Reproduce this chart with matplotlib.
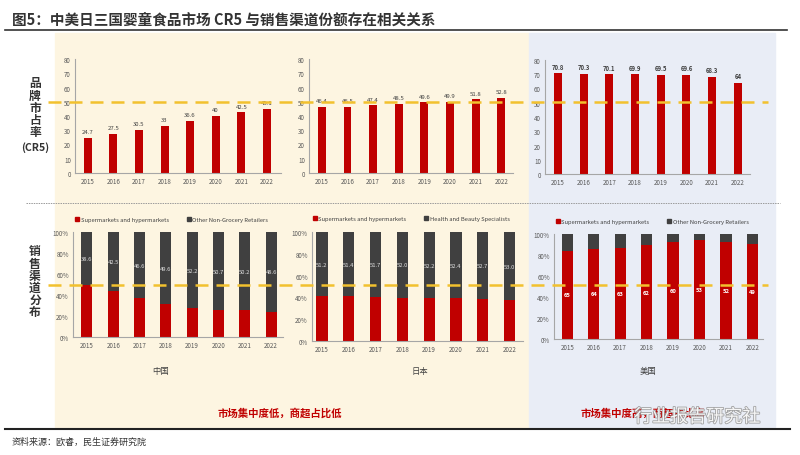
import numpy as np
import matplotlib
matplotlib.use("Agg")
import matplotlib.pyplot as plt
from matplotlib.lines import Line2D
from matplotlib.patches import Rectangle, Patch
import matplotlib.patheffects as pe

plt.rcParams['font.family'] = ['Noto Sans CJK SC', 'DejaVu Sans']

# data
years = ['2015', '2016', '2017', '2018', '2019', '2020', '2021', '2022']

cr5_china = [24.7, 27.5, 30.5, 33, 36.6, 40, 42.5, 45.1]
cr5_japan = [46.4, 46.5, 47.4, 48.5, 49.6, 49.9, 51.8, 52.8]
cr5_us = [70.8, 70.3, 70.1, 69.9, 69.5, 69.6, 68.3, 64]

# channel values (bars are drawn as 100% stacked)
china_super = [38.6, 33.4, 27.4, 22.3, 19.8, 17.4, 17.3, 15.3]
china_other = [38.6, 42.5, 46.6, 49.6, 52.2, 50.7, 50.2, 48.6]
japan_super = [35.6, 35.7, 34.5, 34.0, 33.4, 33.5, 33.0, 31.8]
japan_health = [51.2, 51.4, 51.7, 52.0, 52.2, 52.4, 52.7, 53.0]
us_super = [65, 64, 63, 62, 60, 53, 52, 49]
us_other = [12.4, 10.4, 9.4, 7.3, 4.9, 3.1, 4.2, 5.4]

RED = '#C00000'
GREY = '#404040'
GOLD = '#F2C12E'
W, H = 800, 456

fig = plt.figure(figsize=(8, 4.56), dpi=100)


def fx(px):
    return px / W


def fy(py):
    return 1 - py / H


def add_ax(left, right, top, bottom):
    ax = fig.add_axes([fx(left), fy(bottom), (right - left) / W, (bottom - top) / H])
    ax.patch.set_alpha(0)
    ax.set_zorder(2)
    for s in ['top', 'right']:
        ax.spines[s].set_visible(False)
    for s in ['left', 'bottom']:
        ax.spines[s].set_color('#A6A6A6')
        ax.spines[s].set_linewidth(0.8)
    ax.tick_params(length=0, labelsize=4.5, labelcolor='#595959', pad=3)
    return ax


# backgrounds
fig.patches.append(Rectangle((fx(55), fy(428)), (529 - 55) / W, (428 - 34) / H,
                             transform=fig.transFigure, color='#FDF5E1', zorder=-2))
fig.patches.append(Rectangle((fx(529), fy(428)), (775 - 529) / W, (428 - 34) / H,
                             transform=fig.transFigure, color='#E9EDF6', zorder=-2))

# title
fig.text(fx(12), fy(20), '图5：中美日三国婴童食品市场 CR5 与销售渠道份额存在相关关系',
         fontsize=10.5, fontweight='bold', color='#333333', va='center', ha='left')
fig.add_artist(Line2D([fx(5), fx(787)], [fy(31), fy(31)], color='#333333', lw=1.2))

# top row: CR5
x = np.arange(len(years))
top_specs = [
    (cr5_china, 75, 281, 60, 174, (-0.5, 7.55), 'normal'),
    (cr5_japan, 309, 513, 60, 174, (-0.5, 7.45), 'normal'),
    (cr5_us, 545, 750, 61, 175, (-0.5, 7.47), 'bold'),
]
for vals, l, r, t, b, xl, fw in top_specs:
    ax = add_ax(l, r, t, b)
    ax.bar(x, vals, width=0.31, color=RED, zorder=2)
    ax.set_ylim(0, 80)
    ax.set_yticks(range(0, 81, 10))
    ax.set_xlim(*xl)
    ax.set_xticks(x)
    ax.set_xticklabels(years)
    for xi, v in zip(x, vals):
        ax.text(xi, v + 2.5, f'{v:g}', ha='center', va='bottom', fontsize=4.3,
                color='#404040', fontweight=fw)

# bottom row: channel shares
bottom_specs = [
    (china_super, china_other, 73, 283, 233, 338, (-0.53, 7.45),
     'Other Non-Grocery Retailers', 'top'),
    (japan_super, japan_health, 312, 523, 233, 342, (-0.37, 7.5),
     'Health and Beauty Specialists', 'top'),
    (us_super, us_other, 554, 763, 235, 340, (-0.5, 7.4),
     'Other Non-Grocery Retailers', 'bottom'),
]
for sup, oth, l, r, t, b, xl, oname, lab in bottom_specs:
    ax = add_ax(l, r, t, b)
    sup = np.array(sup, dtype=float)
    oth = np.array(oth, dtype=float)
    tot = sup + oth
    s_sh = sup / tot
    o_sh = oth / tot
    ax.bar(x, s_sh, width=0.42, color=RED, zorder=2)
    ax.bar(x, o_sh, width=0.42, bottom=s_sh, color=GREY, zorder=2)
    ax.set_ylim(0, 1)
    ax.set_yticks(np.linspace(0, 1, 6))
    ax.set_yticklabels([f'{int(v)}%' for v in range(0, 101, 20)])
    ax.set_xlim(*xl)
    ax.set_xticks(x)
    ax.set_xticklabels(years)
    for xi in x:
        if lab == 'top':
            ax.text(xi, s_sh[xi] + o_sh[xi] / 2, f'{oth[xi]:.1f}', ha='center',
                    va='center', fontsize=4.2, color='#E0E0E0')
        else:
            ax.text(xi, s_sh[xi] / 2, f'{sup[xi]:g}', ha='center', va='center',
                    fontsize=4.2, color='white', fontweight='bold')
    handles = [Patch(color=RED, label='Supermarkets and hypermarkets'),
               Patch(color=GREY, label=oname)]
    ax.legend(handles=handles, ncol=2, loc='center', bbox_to_anchor=(0.47, 1.12),
              fontsize=4.2, frameon=False, handlelength=0.7, handleheight=0.7,
              handletextpad=0.3, columnspacing=3.0, labelcolor='#404040')

# reference lines
for py in [103, 286]:
    fig.add_artist(Line2D([fx(48), fx(768)], [fy(py), fy(py)], color=GOLD, lw=1.8,
                          linestyle=(0, (5.2, 3.2)), zorder=5))
fig.add_artist(Line2D([fx(26), fx(780)], [fy(204), fy(204)], color='#9A9A9A', lw=0.7,
                      linestyle=(0, (1.5, 1))))

# side labels
for i, ch in enumerate(['品', '牌', '市', '占', '率']):
    fig.text(fx(35), fy(84 + i * 12.2), ch, ha='center', va='center', fontsize=8.5,
             fontweight='bold', color='#333333')
fig.text(fx(35), fy(148), '(CR5)', ha='center', va='center', fontsize=7.5,
         fontweight='bold', color='#333333')
for i, ch in enumerate(['销', '售', '渠', '道', '分', '布']):
    fig.text(fx(35), fy(252 + i * 12.2), ch, ha='center', va='center', fontsize=8.5,
             fontweight='bold', color='#333333')

# country names and conclusions
for name, px in [('中国', 161), ('日本', 420), ('美国', 648)]:
    fig.text(fx(px), fy(372), name, ha='center', va='center', fontsize=6, color='#404040')
fig.text(fx(280), fy(413), '市场集中度低，商超占比低', ha='center', va='center',
         fontsize=7.5, fontweight='bold', color=RED)
fig.text(fx(643), fy(413), '市场集中度高，商超占比高', ha='center', va='center',
         fontsize=7.5, fontweight='bold', color=RED)
fig.text(fx(697), fy(418), '行业报告研究社', ha='center', va='center', fontsize=13,
         color='white', alpha=0.9,
         path_effects=[pe.withStroke(linewidth=1.2, foreground='#9A9A9A')])

# footer
fig.add_artist(Line2D([fx(5), fx(790)], [fy(430), fy(430)], color='#222222', lw=1.5))
fig.text(fx(12), fy(442), '资料来源：欧睿，民生证券研究院', ha='left', va='center',
         fontsize=6.5, color='#333333')

fig.savefig('out.png', dpi=100)
